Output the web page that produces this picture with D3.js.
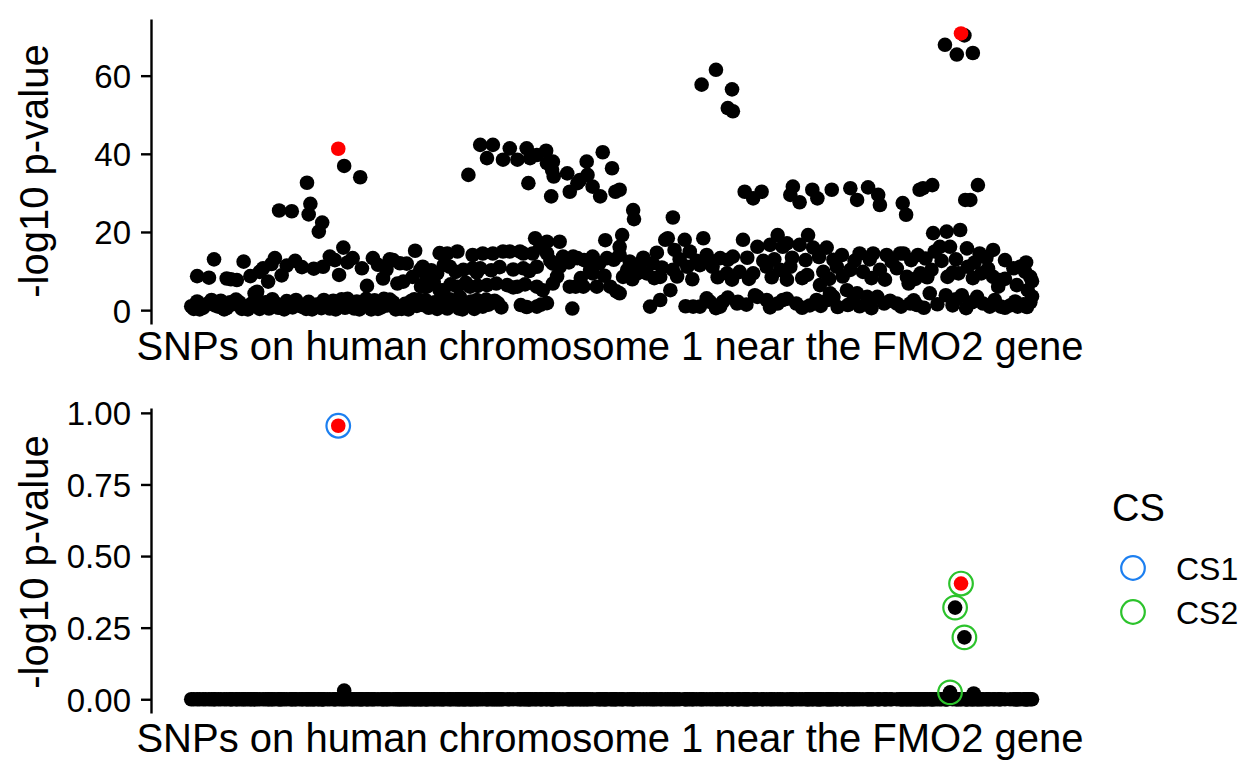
<!DOCTYPE html>
<html><head><meta charset="utf-8">
<script src="https://cdn.jsdelivr.net/npm/d3@7"></script>
<style>
body{margin:0;background:#fff}
svg{display:block}
text{font-family:"Liberation Sans",Arial,Helvetica,sans-serif}
</style>
</head><body>
<svg id="chart" width="1260" height="780"></svg>
<script>
// SNP index (0..1000 along the region) and association strength (-log10 p)
const snpAssoc = [
 [5,1.0],[12,2.2],[19,0.6],[26,1.8],[33,1.2],[40,2.4],[47,0.5],[54,1.5],[62,2.0],[69,0.8],[76,1.6],[83,2.5],[90,1.0],[97,0.4],[104,1.9],[111,1.2],[118,2.3],[125,0.7],[133,1.5],
 [8,0.3],[22,1.4],[37,0.9],[51,2.0],[65,0.3],[79,1.1],[93,2.0],[108,0.6],[122,0.9],
 [15,0.2],[29,2.6],[44,0.2],[58,2.7],[72,0.2],[86,0.3],[101,2.8],[115,0.2],[129,2.6],
 [12,8.7],[26,8.3],[32,13.0],[47,8.1],[59,7.7],[67,12.4],[75,8.7],[80,4.3],[83,4.7],[90,10.7],[96,7.3],[104,13.3],[118,11.4],[109,25.5],[124,25.3],[136,11.0],
 [52,7.9],[86,9.8],[100,11.8],[112,8.9],[128,12.6],
 [142,32.6],[146,27.2],[144,24.5],[160,22.4],[156,20.1],[186,36.9],[205,34.0],[185,16.0],[179,41.3],
 [161,11.1],[169,13.7],[180,9.0],[196,13.3],[207,10.7],[213,6.2],[220,13.3],[232,8.1],[240,13.0],[244,12.8],[249,6.8],[256,7.3],[260,11.9],[270,15.2],[267,8.5],[276,10.3],[277,6.0],
 [150,10.6],[175,12.8],[190,12.2],[226,11.6],[236,10.4],[252,12.0],
 [137,0.8],[144,2.1],[151,1.3],[159,0.5],[166,1.9],[173,2.4],[180,1.0],[187,0.6],[194,1.7],[201,2.2],[208,0.9],[215,1.4],[222,2.5],[230,0.7],[237,1.2],[244,2.0],[251,0.5],[258,1.6],[265,2.3],[272,1.1],
 [141,0.3],[155,1.5],[169,0.4],[183,2.8],[198,0.4],[212,2.9],[226,0.3],[240,2.7],[254,0.3],[269,2.8],
 [148,0.2],[162,2.6],[176,0.2],[190,2.9],[204,0.2],[218,0.2],[233,2.9],[247,0.2],[262,0.2],[274,2.6],
 [347,42.3],[362,42.3],[382,41.4],[402,41.4],[355,38.9],[374,38.5],[391,38.5],[406,38.9],[414,39.7],[425,40.8],[333,34.6],[404,32.5],
 [412,18.4],[299,14.6],[308,14.5],[320,15.0],[338,14.1],[350,14.5],[362,14.5],[374,15.0],[382,15.0],[394,15.0],[398,14.5],[409,14.5],[418,16.2],
 [279,11.1],[296,9.4],[311,11.1],[327,10.3],[338,10.7],[347,10.7],[398,10.7],[414,11.1],
 [289,10.2],[304,11.6],[318,9.8],[343,9.6],[360,10.2],[370,11.0],[386,10.4],[405,10.0],
 [284,6.0],[283,7.7],[299,5.1],[303,5.1],[320,6.0],[335,6.0],[355,6.4],[379,6.4],[391,6.0],[414,6.0],[323,3.4],[303,2.6],
 [292,7.2],[312,6.6],[330,7.0],[344,6.2],[366,6.8],[386,5.8],[400,6.6],
 [279,1.3],[286,0.6],[293,2.0],[301,1.1],[308,0.4],[315,1.8],[322,0.4],[329,1.5],[336,2.2],[343,2.6],[350,0.9],[357,1.4],[364,2.4],[372,0.7],[395,1.3],[402,0.8],[414,0.9],[419,1.4],
 [282,2.6],[296,0.3],[311,2.8],[326,0.2],[340,0.3],[354,2.7],[368,1.8],
 [433,38.0],[434,34.2],[426,37.6],[432,35.9],[450,35.0],[473,38.0],[492,40.4],[503,36.3],[474,34.6],[462,32.5],[465,33.3],[453,30.3],[480,31.6],[489,29.1],[507,30.3],[512,30.8],[431,29.1],[528,25.6],[529,23.3],
 [426,17.5],[441,17.5],[495,17.9],[515,19.2],[512,16.2],[556,14.7],[566,18.0],[569,18.4],
 [426,14.5],[445,13.7],[457,13.7],[462,13.3],[480,13.7],[497,13.3],[512,14.1],[524,12.4],[536,12.0],[551,12.0],
 [430,12.6],[452,12.2],[470,12.8],[488,12.0],[505,12.9],[540,13.4],
 [433,11.9],[441,11.1],[477,10.3],[480,9.4],[521,10.3],[544,9.4],[560,8.5],[516,8.5],[533,9.4],
 [438,8.6],[466,8.2],[494,8.8],[527,7.9],[553,8.2],
 [433,6.8],[421,5.1],[453,6.0],[469,6.0],[485,6.0],[501,6.0],[512,4.3],[508,4.8],[460,6.0],[572,5.1],
 [426,1.8],[456,0.4],[548,0.9],[560,2.6],
 [609,57.7],[626,61.5],[645,56.5],[640,51.7],[646,50.9],[575,23.7],
 [660,30.3],[680,30.3],[670,28.6],
 [589,18.0],[611,18.4],[658,18.0],[699,19.2],
 [577,15.4],[595,15.0],[615,14.1],[631,13.3],[646,13.7],[675,16.2],[690,16.7],[705,16.2],
 [583,13.0],[603,12.6],[622,12.4],[640,12.9],[663,13.4],[682,12.6],[695,13.0],
 [562,10.9],[575,10.3],[592,11.1],[607,11.5],[622,11.1],[639,9.4],[654,9.8],[670,9.4],[686,11.1],[702,10.3],
 [580,8.6],[598,7.9],[628,8.4],[645,7.8],[665,8.0],[692,8.4],
 [599,0.9],[615,3.0],[634,2.1],[652,2.1],[672,3.8],[686,2.6],[699,1.7],[607,0.9],[631,0.9],[651,1.7],[675,3.4],[619,2.1],
 [590,1.0],[626,0.5],[640,3.2],[662,1.4],[690,0.7],
 [717,31.6],[714,29.5],[725,27.6],[740,30.8],[746,28.6],[763,30.8],[785,31.2],[793,28.2],[806,31.4],[818,29.5],[820,26.9],[847,27.4],[851,24.4],
 [735,19.2],
 [710,17.1],[725,16.7],[741,16.0],[757,16.0],[775,14.1],[796,14.5],[812,14.5],[828,14.1],[844,14.5],
 [716,13.4],[732,12.8],[748,13.6],[765,12.9],[790,12.6],[808,13.0],[834,12.4],
 [714,11.1],[734,9.0],[753,9.8],[769,11.1],[785,10.3],[800,9.8],[820,10.3],[840,10.7],
 [710,7.8],[728,8.2],[760,8.0],[776,8.6],[810,8.2],[826,7.8],
 [749,6.4],[761,4.3],[781,5.1],[793,4.3],[805,3.4],
 [705,2.6],[721,1.7],[745,2.6],[765,3.4],[782,1.3],[817,3.4],[832,2.4],[840,1.7],[737,1.2],[796,1.0],[758,2.6],
 [710,2.9],[728,0.6],[750,1.1],[770,0.8],[788,2.2],[810,0.5],[825,1.7],[845,0.9],
 [897,67.9],[911,65.4],[930,65.8],[920,70.3],[916,70.8],
 [867,30.8],[871,31.2],[882,32.0],[921,28.2],[927,28.2],[936,32.0],
 [883,19.7],[899,20.1],[915,20.5],
 [848,14.5],[865,14.1],[885,15.0],[903,16.2],[923,15.8],[938,14.5],[954,15.4],[891,16.2],
 [857,12.8],[874,13.2],[893,12.6],[910,13.0],[932,12.2],[946,13.4],[968,12.8],[993,12.2],
 [852,8.5],[868,9.4],[881,10.3],[900,8.5],[913,9.4],[924,11.1],[940,9.4],[954,8.5],[962,7.7],[978,10.7],[986,11.1],[998,8.5],
 [862,8.0],[876,8.4],[906,9.6],[930,8.2],[948,10.6],[968,8.0],[992,9.8],[1000,7.4],
 [854,6.8],[960,6.0],[982,6.4],[995,5.1],
 [856,1.7],[864,1.3],[879,4.3],[898,3.8],[917,3.8],[935,3.4],[942,1.7],[963,0.9],[983,0.9],[998,2.0],[990,1.5],[974,1.2],[950,0.9],[929,2.0],[906,1.2],
 [860,2.5],[872,0.6],[888,1.5],[910,2.8],[922,0.5],[956,2.6],[968,0.6],[980,2.2],[994,0.8],[1000,3.5]
];
// highlighted (lead) SNPs drawn in red
const leadSnps = [179, 916];
// non-zero posterior values for the lower panel (SNP index, value)
const pipValues = [[179,0.955],[186,0.03],[903,0.024],[909,0.32],[916,0.404],[920,0.216],[931,0.02]];
// credible sets
const csNames = ["CS1", "CS2"];
const csMembers = [[179], [903, 909, 916, 920]];
const csColors = ["#1c7ff0", "#2cc32c"];
const topTicks = [0, 20, 40, 60];
const bottomTicks = [0, 0.25, 0.5, 0.75, 1];
const xTitle = "SNPs on human chromosome 1 near the FMO2 gene";
const yTitle = "-log10 p-value";
const legendTitle = "CS";

const svg = d3.select("#chart");
const panelL = 151, panelR = 1068;
const R = 7.3;

const x = d3.scaleLinear().domain([-42.6, 1042.6]).range([panelL, panelR]);
const yTop = d3.scaleLinear().domain([-3.55, 74.5]).range([324, 19]);
const yBot = d3.scaleLinear().domain([-0.048, 1.017]).range([713, 408]);

function drawAxis(y, ticks, fmt) {
  const g = svg.append("g").attr("transform", `translate(${panelL},0)`)
    .call(d3.axisLeft(y).tickValues(ticks).tickFormat(fmt).tickSize(10).tickSizeOuter(0).tickPadding(10));
  g.select(".domain").attr("stroke", "#000").attr("stroke-width", 2.4);
  g.selectAll(".tick line").attr("stroke", "#000").attr("stroke-width", 2.4);
  g.selectAll(".tick text").attr("fill", "#000").style("font-size", "33px").attr("dy", "0.36em");
}

// ---- top panel ----
const leadSet = new Set(leadSnps);
const isLead = d => leadSet.has(d[0]) && d[1] > 40;
const topG = svg.append("g");
topG.selectAll("circle.b").data(snpAssoc.filter(d => !isLead(d)))
  .join("circle").attr("class", "b")
  .attr("cx", d => x(d[0])).attr("cy", d => yTop(d[1])).attr("r", R).attr("fill", "#000");
topG.selectAll("circle.r").data(snpAssoc.filter(isLead))
  .join("circle").attr("class", "r")
  .attr("cx", d => x(d[0])).attr("cy", d => yTop(d[1])).attr("r", R).attr("fill", "#ff0000");
drawAxis(yTop, topTicks, d3.format("d"));

// ---- bottom panel ----
const pipMap = new Map(pipValues);
const allIdx = Array.from(new Set(snpAssoc.map(d => d[0])));
const zeroIdx = allIdx.filter(i => !pipMap.has(i));
const botG = svg.append("g");
botG.selectAll("circle.z").data(zeroIdx).join("circle").attr("class", "z")
  .attr("cx", d => x(d)).attr("cy", yBot(0)).attr("r", R).attr("fill", "#000");
botG.selectAll("circle.p").data(pipValues).join("circle").attr("class", "p")
  .attr("cx", d => x(d[0])).attr("cy", d => yBot(d[1])).attr("r", R)
  .attr("fill", d => leadSet.has(d[0]) ? "#ff0000" : "#000");
const rings = [];
csMembers.forEach((m, k) => m.forEach(i => rings.push({i, k})));
botG.selectAll("circle.cs").data(rings).join("circle").attr("class", "cs")
  .attr("cx", d => x(d.i)).attr("cy", d => yBot(pipMap.get(d.i))).attr("r", 11.8)
  .attr("fill", "none").attr("stroke", d => csColors[d.k]).attr("stroke-width", 2.2);
drawAxis(yBot, bottomTicks, d3.format(".2f"));

// ---- titles ----
const mid = 610;
[[360, 171], [752, 562]].forEach(([xb, yc]) => {
  svg.append("text").attr("x", mid).attr("y", xb).attr("text-anchor", "middle")
    .style("font-size", "40px").attr("fill", "#000").text(xTitle);
  svg.append("text").attr("transform", `translate(48,${yc}) rotate(-90)`).attr("text-anchor", "middle")
    .style("font-size", "40px").attr("fill", "#000").text(yTitle);
});

// ---- legend ----
svg.append("text").attr("x", 1112).attr("y", 521).style("font-size", "38px").attr("fill", "#000").text(legendTitle);
csNames.forEach((n, k) => {
  const cy = 568 + k * 44;
  svg.append("circle").attr("cx", 1133).attr("cy", cy).attr("r", 11.8)
    .attr("fill", "none").attr("stroke", csColors[k]).attr("stroke-width", 2.2);
  svg.append("text").attr("x", 1176).attr("y", cy + 12).style("font-size", "32px").attr("fill", "#000").text(n);
});
</script>
</body></html>
